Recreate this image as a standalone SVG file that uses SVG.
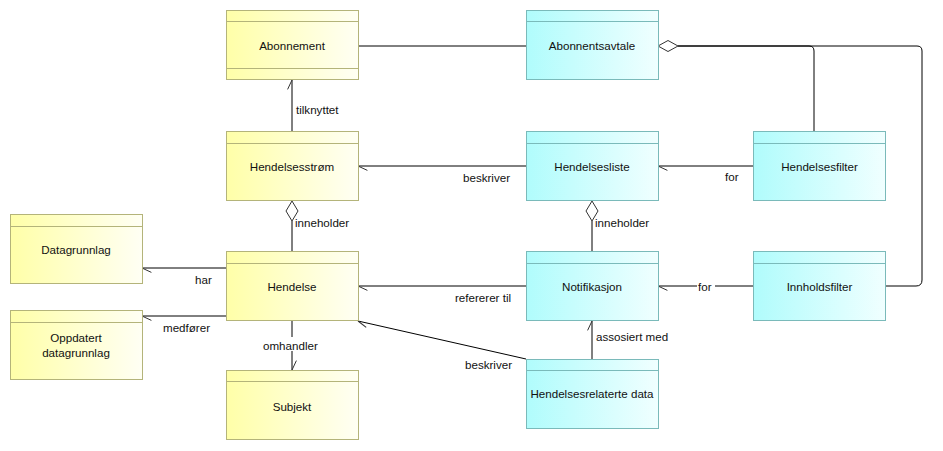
<svg xmlns="http://www.w3.org/2000/svg" width="943" height="451" viewBox="0 0 943 451">
<defs>
<linearGradient id="gy" x1="0" y1="0" x2="1" y2="0"><stop offset="0" stop-color="#ffffa8"/><stop offset="1" stop-color="#fffff4"/></linearGradient>
<linearGradient id="gc" x1="0" y1="0" x2="1" y2="0"><stop offset="0" stop-color="#b0fcfc"/><stop offset="1" stop-color="#f0ffff"/></linearGradient>
<marker id="barb" markerUnits="userSpaceOnUse" markerWidth="20" markerHeight="20" refX="0" refY="0" orient="auto" overflow="visible"><path d="M0,0 L-9.4,-4.4" fill="none" stroke="#333" stroke-width="1"/></marker>
</defs>
<style>
.ny rect{fill:url(#gy);stroke:#b4b47a;stroke-width:1}
.nc rect{fill:url(#gc);stroke:#7ababa;stroke-width:1}
.ny line{stroke:#b4b47a;stroke-width:1}
.nc line{stroke:#7ababa;stroke-width:1}
text{font-family:"Liberation Sans",Arial,sans-serif;font-size:11.6px;fill:#111}
.t{text-anchor:middle}
#connectors path,#connectors line{fill:none;stroke:#000;stroke-width:1}
#connectors .a{marker-end:url(#barb)}
#connectors polygon{fill:#fff;stroke:#333;stroke-width:1}
.bg{fill:#fff;stroke:none}
</style>
<rect width="943" height="451" fill="#fff"/>
<g id="connectors">
<line x1="358" y1="46" x2="526" y2="46"/>
<path d="M678,46 H809 Q814,46 814,51 V131"/>
<path d="M678,46 H917 Q922,46 922,51 V280 Q922,286 916,286 H886"/>
<polygon points="658,46 668,40.5 678,46 668,51.5"/>
<line class="a" x1="292" y1="131" x2="292" y2="80"/>
<line class="a" x1="526" y1="166" x2="358" y2="166"/>
<line class="a" x1="753" y1="166" x2="658" y2="166"/>
<line x1="292" y1="221" x2="292" y2="251"/>
<polygon points="292,201 298,211 292,221 286,211"/>
<line x1="592" y1="221" x2="592" y2="251"/>
<polygon points="592,201 598,211 592,221 586,211"/>
<line class="a" x1="226" y1="268" x2="142" y2="268"/>
<line class="a" x1="226" y1="316" x2="142" y2="316"/>
<line class="a" x1="526" y1="286" x2="358" y2="286"/>
<line class="a" x1="753" y1="286" x2="658" y2="286"/>
<line class="a" x1="292" y1="321" x2="292" y2="370"/>
<line class="a" x1="526" y1="359" x2="358" y2="321"/>
<line class="a" x1="592" y1="359" x2="592" y2="321"/>
<text x="296" y="114">tilknyttet</text>
<text x="463" y="182">beskriver</text>
<text x="725" y="181">for</text>
<text x="295" y="227">inneholder</text>
<text x="595" y="227">inneholder</text>
<text x="195" y="284">har</text>
<text x="163" y="332">medfører</text>
<text x="455" y="302">refererer til</text>
<rect class="bg" x="697" y="280" width="18" height="13"/>
<text x="698" y="291">for</text>
<rect class="bg" x="262" y="337" width="60" height="14"/>
<text x="263" y="350">omhandler</text>
<text x="465" y="369">beskriver</text>
<text x="596" y="341">assosiert med</text>
</g>
<g id="abonnement" class="ny"><rect x="226.5" y="10.5" width="132" height="69"/><line x1="226.5" y1="21.5" x2="358.5" y2="21.5"/><line x1="226.5" y1="68.5" x2="358.5" y2="68.5"/><text class="t" x="292" y="50">Abonnement</text></g>
<g id="abonnentsavtale" class="nc"><rect x="526.5" y="10.5" width="132" height="69"/><line x1="526.5" y1="21.5" x2="658.5" y2="21.5"/><text class="t" x="592" y="50">Abonnentsavtale</text></g>
<g id="hendelsesstrom" class="ny"><rect x="226.5" y="131.5" width="132" height="69"/><line x1="226.5" y1="143.5" x2="358.5" y2="143.5"/><text class="t" x="292" y="171">Hendelsesstrøm</text></g>
<g id="hendelsesliste" class="nc"><rect x="526.5" y="131.5" width="132" height="69"/><line x1="526.5" y1="143.5" x2="658.5" y2="143.5"/><text class="t" x="592" y="171">Hendelsesliste</text></g>
<g id="hendelsesfilter" class="nc"><rect x="753.5" y="131.5" width="132" height="69"/><line x1="753.5" y1="143.5" x2="885.5" y2="143.5"/><text class="t" x="819.5" y="171">Hendelsesfilter</text></g>
<g id="datagrunnlag" class="ny"><rect x="10.5" y="214.5" width="132" height="69"/><line x1="10.5" y1="226.5" x2="142.5" y2="226.5"/><text class="t" x="76" y="254">Datagrunnlag</text></g>
<g id="hendelse" class="ny"><rect x="226.5" y="251.5" width="132" height="69"/><line x1="226.5" y1="263.5" x2="358.5" y2="263.5"/><text class="t" x="292" y="291">Hendelse</text></g>
<g id="notifikasjon" class="nc"><rect x="526.5" y="251.5" width="132" height="69"/><line x1="526.5" y1="263.5" x2="658.5" y2="263.5"/><text class="t" x="592" y="291">Notifikasjon</text></g>
<g id="innholdsfilter" class="nc"><rect x="753.5" y="251.5" width="132" height="69"/><line x1="753.5" y1="263.5" x2="885.5" y2="263.5"/><text class="t" x="819.5" y="291">Innholdsfilter</text></g>
<g id="oppdatert" class="ny"><rect x="10.5" y="310.5" width="132" height="69"/><line x1="10.5" y1="322.5" x2="142.5" y2="322.5"/><text class="t" x="76" y="342">Oppdatert</text><text class="t" x="76" y="357">datagrunnlag</text></g>
<g id="subjekt" class="ny"><rect x="226.5" y="370.5" width="132" height="69"/><line x1="226.5" y1="381.5" x2="358.5" y2="381.5"/><text class="t" x="292" y="411">Subjekt</text></g>
<g id="hendelsesrelaterte" class="nc"><rect x="526.5" y="359.5" width="132" height="69"/><line x1="526.5" y1="370.5" x2="658.5" y2="370.5"/><text class="t" x="592" y="398">Hendelsesrelaterte data</text></g>
</svg>
